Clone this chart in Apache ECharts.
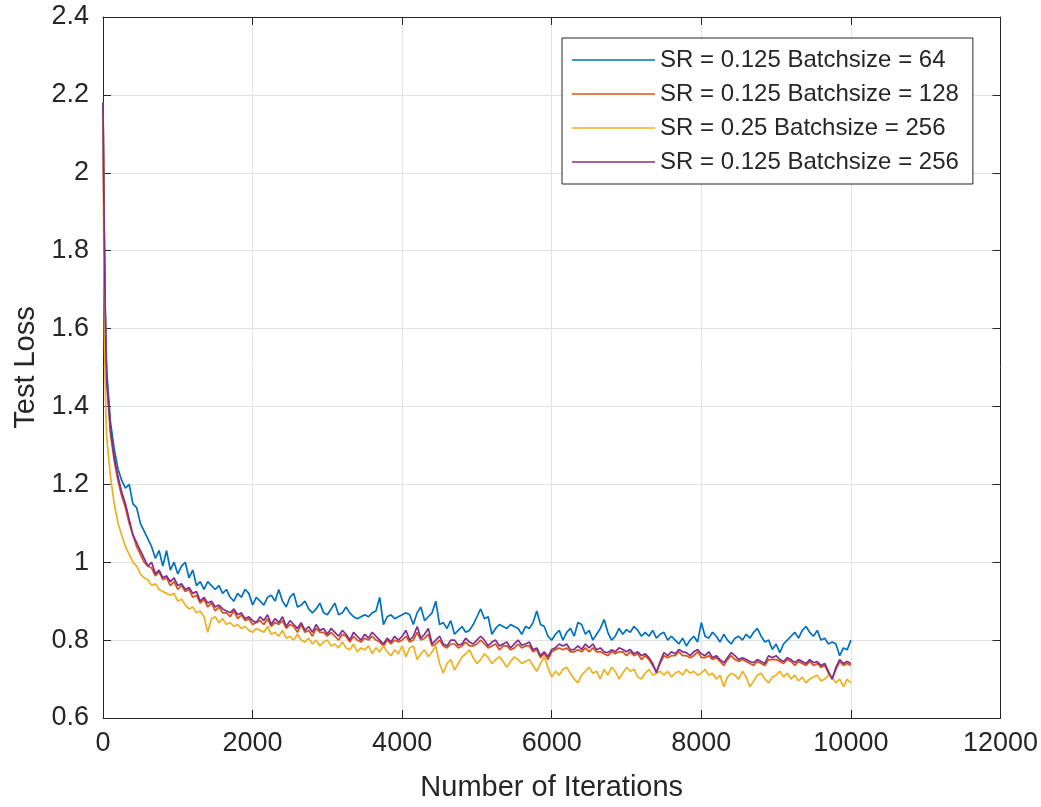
<!DOCTYPE html>
<html>
<head>
<meta charset="utf-8">
<script src="https://cdn.jsdelivr.net/npm/echarts@6/dist/echarts.min.js"></script>
<style>
html,body{margin:0;padding:0;background:#fff;}
#chart{width:1041px;height:807px;}
</style>
</head>
<body>
<div id="chart"></div>
<script>
const iterations = [0,10,20,30,40,
50,100,150,200,250,300,350,400,450,500,
550,600,650,700,750,800,850,900,950,1000,
1050,1100,1150,1200,1250,1300,1350,1400,1450,1500,
1550,1600,1650,1700,1750,1800,1850,1900,1950,2000,
2050,2100,2150,2200,2250,2300,2350,2400,2450,2500,
2550,2600,2650,2700,2750,2800,2850,2900,2950,3000,
3050,3100,3150,3200,3250,3300,3350,3400,3450,3500,
3550,3600,3650,3700,3750,3800,3850,3900,3950,4000,
4050,4100,4150,4200,4250,4300,4350,4400,4450,4500,
4550,4600,4650,4700,4750,4800,4850,4900,4950,5000,
5050,5100,5150,5200,5250,5300,5350,5400,5450,5500,
5550,5600,5650,5700,5750,5800,5850,5900,5950,6000,
6050,6100,6150,6200,6250,6300,6350,6400,6450,6500,
6550,6600,6650,6700,6750,6800,6850,6900,6950,7000,
7050,7100,7150,7200,7250,7300,7350,7400,7450,7500,
7550,7600,7650,7700,7750,7800,7850,7900,7950,8000,
8050,8100,8150,8200,8250,8300,8350,8400,8450,8500,
8550,8600,8650,8700,8750,8800,8850,8900,8950,9000,
9050,9100,9150,9200,9250,9300,9350,9400,9450,9500,
9550,9600,9650,9700,9750,9800,9850,9900,9950,10000];

const seriesNames = [
  'SR = 0.125 Batchsize = 64',
  'SR = 0.125 Batchsize = 128',
  'SR = 0.25 Batchsize = 256',
  'SR = 0.125 Batchsize = 256'
];

const lossSR0125B64 = [2.18,1.98,1.80,1.66,1.56,
1.49,1.36,1.29,1.24,1.21,1.19,1.20,1.15,1.14,1.10,
1.08,1.06,1.04,1.01,1.03,0.99,1.03,0.98,1.00,0.97,
0.99,1.00,0.96,0.98,0.94,0.95,0.93,0.95,0.94,0.93,
0.94,0.92,0.93,0.91,0.90,0.92,0.91,0.93,0.92,0.89,
0.91,0.90,0.89,0.91,0.915,0.90,0.93,0.90,0.885,0.91,
0.92,0.885,0.89,0.90,0.88,0.87,0.88,0.895,0.87,0.865,
0.88,0.895,0.865,0.87,0.885,0.87,0.86,0.855,0.86,0.865,
0.86,0.87,0.875,0.91,0.84,0.86,0.865,0.855,0.86,0.865,
0.87,0.865,0.84,0.87,0.885,0.85,0.86,0.87,0.90,0.84,
0.845,0.83,0.85,0.815,0.825,0.835,0.82,0.825,0.84,0.86,
0.88,0.855,0.86,0.815,0.83,0.84,0.835,0.83,0.84,0.835,
0.83,0.815,0.835,0.83,0.845,0.875,0.84,0.835,0.81,0.80,
0.815,0.825,0.80,0.82,0.83,0.81,0.845,0.84,0.815,0.825,
0.80,0.815,0.83,0.853,0.82,0.80,0.81,0.83,0.815,0.827,
0.82,0.835,0.825,0.81,0.82,0.81,0.825,0.805,0.815,0.82,
0.80,0.81,0.80,0.79,0.805,0.785,0.80,0.81,0.795,0.845,
0.81,0.805,0.82,0.81,0.795,0.815,0.80,0.79,0.805,0.81,
0.80,0.815,0.805,0.82,0.83,0.81,0.795,0.80,0.776,0.79,
0.768,0.79,0.80,0.81,0.82,0.805,0.825,0.835,0.82,0.81,
0.825,0.80,0.805,0.79,0.795,0.79,0.76,0.78,0.775,0.80];

const lossSR0125B128 = [2.18,1.95,1.77,1.63,1.53,
1.46,1.33,1.26,1.21,1.17,1.14,1.10,1.07,1.04,1.02,
1.00,0.99,0.985,0.965,0.975,0.955,0.96,0.94,0.95,0.93,
0.94,0.925,0.93,0.91,0.915,0.895,0.905,0.885,0.895,0.875,
0.885,0.87,0.87,0.86,0.875,0.855,0.865,0.85,0.855,0.84,
0.845,0.85,0.84,0.855,0.835,0.845,0.84,0.85,0.83,0.84,
0.835,0.82,0.84,0.82,0.825,0.81,0.83,0.82,0.82,0.81,
0.82,0.81,0.80,0.815,0.81,0.795,0.81,0.80,0.795,0.805,
0.80,0.81,0.80,0.795,0.785,0.80,0.79,0.80,0.795,0.80,
0.81,0.795,0.80,0.82,0.80,0.805,0.815,0.785,0.79,0.80,
0.785,0.78,0.79,0.79,0.78,0.785,0.795,0.785,0.785,0.79,
0.80,0.79,0.78,0.785,0.79,0.775,0.785,0.785,0.775,0.78,
0.79,0.78,0.785,0.785,0.77,0.775,0.755,0.765,0.75,0.77,
0.775,0.78,0.775,0.78,0.77,0.77,0.775,0.77,0.78,0.77,
0.78,0.77,0.77,0.765,0.76,0.77,0.765,0.77,0.77,0.76,
0.77,0.76,0.765,0.75,0.76,0.75,0.735,0.72,0.74,0.76,
0.755,0.76,0.76,0.77,0.76,0.76,0.755,0.76,0.77,0.755,
0.755,0.76,0.75,0.755,0.745,0.735,0.75,0.76,0.75,0.745,
0.75,0.745,0.74,0.735,0.745,0.74,0.735,0.75,0.75,0.75,
0.745,0.74,0.75,0.745,0.735,0.745,0.74,0.735,0.745,0.735,
0.74,0.73,0.735,0.715,0.70,0.725,0.745,0.735,0.74,0.735];

const lossSR025B256 = [2.15,1.80,1.58,1.45,1.37,
1.32,1.22,1.15,1.10,1.07,1.04,1.02,1.00,0.99,0.97,
0.96,0.955,0.94,0.945,0.93,0.925,0.92,0.915,0.92,0.90,
0.905,0.89,0.88,0.885,0.87,0.875,0.86,0.82,0.855,0.86,
0.845,0.855,0.84,0.845,0.835,0.84,0.83,0.835,0.825,0.82,
0.83,0.825,0.82,0.835,0.815,0.82,0.81,0.825,0.805,0.81,
0.80,0.815,0.80,0.795,0.805,0.79,0.80,0.785,0.795,0.80,
0.785,0.79,0.78,0.795,0.78,0.775,0.79,0.77,0.78,0.775,
0.785,0.765,0.78,0.77,0.785,0.77,0.76,0.775,0.765,0.785,
0.757,0.78,0.785,0.75,0.765,0.775,0.757,0.77,0.785,0.74,
0.715,0.74,0.75,0.723,0.74,0.757,0.765,0.775,0.755,0.74,
0.75,0.765,0.755,0.74,0.75,0.757,0.745,0.73,0.745,0.757,
0.75,0.74,0.745,0.75,0.735,0.72,0.74,0.757,0.73,0.705,
0.72,0.71,0.725,0.73,0.715,0.70,0.69,0.71,0.72,0.73,
0.715,0.72,0.70,0.725,0.71,0.73,0.72,0.70,0.715,0.73,
0.72,0.725,0.705,0.70,0.715,0.725,0.71,0.715,0.72,0.71,
0.72,0.705,0.715,0.72,0.71,0.725,0.715,0.72,0.71,0.715,
0.725,0.71,0.715,0.70,0.71,0.68,0.705,0.715,0.71,0.70,
0.72,0.705,0.68,0.695,0.71,0.715,0.70,0.69,0.705,0.71,
0.72,0.705,0.715,0.70,0.71,0.695,0.705,0.69,0.70,0.705,
0.71,0.695,0.70,0.71,0.705,0.69,0.70,0.68,0.70,0.69];

const lossSR0125B256 = [2.18,1.96,1.78,1.64,1.54,
1.47,1.34,1.27,1.22,1.18,1.15,1.11,1.07,1.05,1.03,
1.01,0.99,1.00,0.97,0.98,0.96,0.965,0.95,0.96,0.94,
0.945,0.93,0.935,0.92,0.925,0.90,0.91,0.895,0.90,0.885,
0.89,0.88,0.875,0.87,0.88,0.865,0.87,0.855,0.86,0.85,
0.845,0.86,0.85,0.865,0.84,0.855,0.845,0.86,0.835,0.85,
0.84,0.83,0.845,0.825,0.835,0.82,0.84,0.825,0.83,0.815,
0.83,0.82,0.81,0.825,0.815,0.80,0.82,0.81,0.80,0.815,
0.805,0.82,0.81,0.80,0.79,0.805,0.795,0.81,0.80,0.81,
0.825,0.80,0.81,0.835,0.805,0.815,0.83,0.79,0.80,0.81,
0.79,0.785,0.80,0.80,0.787,0.79,0.805,0.795,0.79,0.80,
0.81,0.80,0.785,0.795,0.80,0.785,0.79,0.795,0.78,0.79,
0.80,0.787,0.79,0.795,0.775,0.78,0.76,0.77,0.757,0.776,
0.78,0.79,0.785,0.79,0.775,0.776,0.785,0.776,0.79,0.78,
0.79,0.775,0.78,0.77,0.768,0.775,0.77,0.78,0.776,0.77,
0.776,0.765,0.77,0.76,0.765,0.755,0.74,0.716,0.745,0.768,
0.76,0.77,0.765,0.776,0.77,0.768,0.76,0.77,0.776,0.765,
0.76,0.77,0.755,0.76,0.75,0.742,0.755,0.768,0.76,0.75,
0.755,0.75,0.745,0.742,0.75,0.745,0.74,0.76,0.755,0.76,
0.75,0.745,0.755,0.75,0.742,0.75,0.745,0.74,0.75,0.742,
0.745,0.735,0.74,0.72,0.70,0.73,0.75,0.74,0.745,0.74];

const xTicks = {min: 0, max: 12000, interval: 2000};
const yTicks = {min: 0.6, max: 2.4, interval: 0.2};

const colors = ['#0072BD', '#D95319', '#EDB120', '#7E2F8E'];
const allValues = [lossSR0125B64, lossSR0125B128, lossSR025B256, lossSR0125B256];

const FONT = '"Liberation Sans", Arial, Helvetica, sans-serif';
const AX = '#262626';

const chart = echarts.init(document.getElementById('chart'), null, {renderer: 'canvas'});

const baseX = {
  type: 'value', min: xTicks.min, max: xTicks.max, interval: xTicks.interval,
  axisLine: {show: true, onZero: false, lineStyle: {color: AX, width: 1}},
  axisTick: {show: true, inside: true, length: 8, lineStyle: {color: AX}},
  splitLine: {show: false},
  axisLabel: {show: false}
};
const baseY = {
  type: 'value', min: yTicks.min, max: yTicks.max, interval: yTicks.interval,
  axisLine: {show: true, onZero: false, lineStyle: {color: AX, width: 1}},
  axisTick: {show: true, inside: true, length: 8, lineStyle: {color: AX}},
  splitLine: {show: false},
  axisLabel: {show: false}
};

const option = {
  animation: false,
  backgroundColor: '#ffffff',
  grid: {left: 103, right: 40, top: 17, bottom: 85, containLabel: false},
  xAxis: [
    Object.assign({}, baseX, {
      position: 'bottom',
      name: 'Number of Iterations',
      nameLocation: 'middle',
      nameGap: 55,
      nameTextStyle: {fontFamily: FONT, fontSize: 29, color: AX},
      splitLine: {show: true, lineStyle: {color: '#e3e3e3', width: 1}},
      axisLabel: {show: true, fontFamily: FONT, fontSize: 27, color: AX, margin: 12,
        formatter: v => String(Math.round(v))}
    }),
    Object.assign({}, baseX, {position: 'top'})
  ],
  yAxis: [
    Object.assign({}, baseY, {
      position: 'left',
      name: 'Test Loss',
      nameLocation: 'middle',
      nameGap: 61,
      nameTextStyle: {fontFamily: FONT, fontSize: 29, color: AX},
      splitLine: {show: true, lineStyle: {color: '#e3e3e3', width: 1}},
      axisLabel: {show: true, fontFamily: FONT, fontSize: 27, color: AX, margin: 14,
        formatter: v => String(parseFloat(v.toFixed(1)))}
    }),
    Object.assign({}, baseY, {position: 'right'})
  ],
  legend: {
    orient: 'vertical',
    left: 562, top: 38,
    padding: [10, 14, 10, 10],
    itemGap: 10,
    itemWidth: 83,
    itemHeight: 1.5,
    icon: 'rect',
    backgroundColor: '#ffffff',
    borderColor: AX,
    borderWidth: 1,
    borderRadius: 0,
    textStyle: {fontFamily: FONT, fontSize: 24, color: AX, lineHeight: 24},
    data: seriesNames
  },
  series: allValues.map((vals, k) => ({
    name: seriesNames[k],
    type: 'line',
    xAxisIndex: 0, yAxisIndex: 0,
    showSymbol: false,
    symbol: 'none',
    sampling: null,
    smooth: false,
    color: colors[k],
    lineStyle: {color: colors[k], width: 1.7},
    data: iterations.map((x, i) => [x, vals[i]])
  }))
};

chart.setOption(option);
</script>
</body>
</html>
